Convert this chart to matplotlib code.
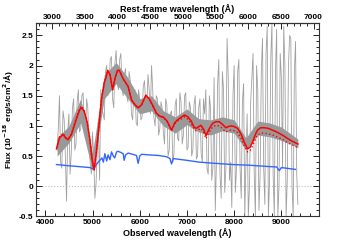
import numpy as np
import matplotlib
matplotlib.use("Agg")
import matplotlib.pyplot as plt
from matplotlib.ticker import MultipleLocator, FormatStrFormatter

plt.rcParams['font.family'] = ['Liberation Sans', 'DejaVu Sans']
plt.rcParams['font.weight'] = 'bold'

z = 0.383

# observed spectrum (gray), 50 A steps from 4250 to 9350
spec_wave = np.arange(4250, 9351, 50)
spec_flux = [0.60, 1.50, 0.30, 1.10, -0.25, 1.20, 0.55, 1.45, 0.70, 1.60,
             0.95, 1.55, 0.80, 1.30, 0.40, 0.90, -0.20, 0.60, 0.10, 1.30,
             1.10, 2.00, 1.60, 2.15, 1.30, 2.25, 1.60, 2.20, 1.50, 1.95,
             1.40, 1.75, 1.10, 1.60, 1.00, 1.45, 1.15, 1.75, 1.30, 1.60,
             2.00, 1.15, 1.50, 0.85, 1.40, 0.90, 1.45, 0.50, 1.20, 0.40,
             1.35, 0.80, 1.55, 0.70, 1.50, 0.60, 1.40, 0.50, 1.35, 0.45,
             1.30, 0.55, 1.45, 1.60, 0.20, 1.30, 0.30, -0.40, 1.70, 0.20,
             1.90, -0.10, 2.45, 0.10, -0.35, 2.00, 0.30, 2.10, -0.20, 1.70,
             0.40, -0.50, 1.40, 2.20, -0.50, 1.60, 0.20, 2.45, -0.30, 2.65,
             0.10, 2.70, -0.50, 2.60, 0.00, 1.80, 2.65, -0.50, 2.00, 2.45,
             -0.50, 2.40, -0.30]
# in-between pixels, 4275 to 9325
spec_wave2 = np.arange(4275, 9326, 50)
spec_flux2 = [0.95, 0.40, 1.25, 0.50, 0.90, 0.20, 1.30, 0.60, 1.40, 0.90,
              1.50, 1.00, 1.45, 0.70, 0.20, 0.50, 0.05, 0.90, 1.60, 1.20,
              1.90, 1.50, 2.10, 1.45, 2.05, 1.70, 2.10, 1.60, 1.85, 1.50,
              1.90, 1.20, 1.55, 1.05, 1.60, 1.10, 1.65, 1.40, 1.85, 1.20,
              1.60, 1.00, 1.45, 0.95, 1.30, 0.70, 1.35, 0.60, 1.25, 0.55,
              1.45, 0.75, 1.40, 0.85, 1.55, 0.65, 1.30, 0.60, 1.50, 0.50,
              1.45, 0.40, 1.20, 0.30, 1.50, 0.10, 1.80, 0.40, 2.10, -0.20,
              1.60, 0.30, 1.80, 0.40, 1.50, -0.10, 1.90, 0.30, 1.40, -0.50,
              1.20, 0.00, 1.80, 0.20, 2.00, -0.40, 1.90, 0.30, 2.20, -0.50,
              2.10, 0.20, 1.90, -0.50, 2.20, 0.30, 2.00, 0.10, 2.50, 0.00,
              1.90, 0.20]

band_wave = [4250, 4500, 4750, 5000, 5250, 5500, 5750, 6000, 6250, 6500, 6750,
             7000, 7250, 7500, 7750, 8000, 8250, 8500, 8750, 9000, 9250, 9350]
band_lo = [0.50, 0.72, 1.05, 0.25, 1.45, 1.70, 1.45, 1.20, 1.25, 1.00, 0.88,
           1.02, 0.90, 0.85, 0.92, 0.88, 0.60, 0.85, 0.82, 0.76, 0.68, 0.64]
band_hi = [0.80, 1.00, 1.45, 0.55, 1.85, 2.05, 1.80, 1.45, 1.50, 1.25, 1.15,
           1.28, 1.12, 1.10, 1.15, 1.10, 0.80, 1.08, 1.05, 0.98, 0.84, 0.78]

# total model (red)
model_wave = [4237, 4300, 4377, 4430, 4480, 4555, 4660, 4730, 4767, 4820,
              4880, 4940, 4990, 5034, 5080, 5130, 5191, 5250, 5286, 5322,
              5370, 5426, 5480, 5530, 5566, 5650, 5756, 5826, 5900, 5966,
              6040, 6129, 6200, 6249, 6355, 6430, 6496, 6580, 6673, 6740,
              6800, 6870, 6949, 7020, 7091, 7150, 7197, 7296, 7350, 7402,
              7470, 7542, 7610, 7684, 7760, 7825, 7880, 7931, 8000, 8072,
              8150, 8220, 8284, 8340, 8390, 8450, 8496, 8560, 8638, 8720,
              8814, 8900, 8993, 9060, 9134, 9220, 9297, 9350]
model_flux = [0.62, 0.80, 0.86, 0.80, 0.77, 0.86, 1.12, 1.27, 1.30, 1.25,
              1.08, 0.80, 0.45, 0.27, 0.55, 0.95, 1.45, 1.72, 1.80, 1.92,
              1.85, 1.60, 1.80, 1.92, 1.92, 1.78, 1.65, 1.43, 1.35, 1.30,
              1.35, 1.51, 1.45, 1.38, 1.21, 1.16, 1.15, 1.08, 0.93, 1.05,
              1.10, 1.14, 1.18, 1.15, 1.08, 0.98, 0.96, 1.01, 0.95, 0.84,
              0.95, 1.04, 1.07, 1.07, 1.02, 0.97, 0.99, 1.00, 0.99, 0.96,
              0.86, 0.72, 0.62, 0.65, 0.73, 0.86, 0.93, 0.97, 0.97, 0.96,
              0.93, 0.90, 0.86, 0.83, 0.79, 0.75, 0.72, 0.70]
model2_flux = [0.63, 0.82, 0.88, 0.81, 0.78, 0.87, 1.14, 1.29, 1.33, 1.27,
               1.09, 0.80, 0.45, 0.27, 0.55, 0.95, 1.45, 1.72, 1.81, 1.92,
               1.85, 1.60, 1.80, 1.92, 1.92, 1.78, 1.65, 1.43, 1.35, 1.30,
               1.35, 1.50, 1.44, 1.37, 1.20, 1.15, 1.14, 1.07, 0.92, 1.03,
               1.08, 1.11, 1.15, 1.11, 1.04, 0.94, 0.92, 0.96, 0.90, 0.79,
               0.90, 0.98, 1.01, 1.00, 0.95, 0.90, 0.92, 0.93, 0.92, 0.89,
               0.79, 0.66, 0.57, 0.59, 0.67, 0.78, 0.85, 0.88, 0.88, 0.87,
               0.85, 0.82, 0.79, 0.76, 0.72, 0.69, 0.66, 0.64]

# host component (blue)
host_wave = [4237, 4500, 4800, 4950, 5000, 5050, 5100, 5155, 5200, 5230,
             5261, 5300, 5330, 5370, 5403, 5440, 5470, 5510, 5544, 5600,
             5650, 5670, 5700, 5756, 5850, 5932, 5966, 6000, 6038, 6200,
             6400, 6567, 6640, 6673, 6710, 6800, 7000, 7261, 7600, 7967,
             8300, 8673, 8900, 8955, 9000, 9297]
host_flux = [0.36, 0.34, 0.32, 0.31, 0.29, 0.32, 0.38, 0.43, 0.47, 0.40,
             0.54, 0.42, 0.52, 0.44, 0.57, 0.50, 0.47, 0.57, 0.58, 0.56,
             0.54, 0.43, 0.52, 0.55, 0.53, 0.51, 0.38, 0.50, 0.53, 0.52,
             0.51, 0.49, 0.46, 0.37, 0.46, 0.45, 0.43, 0.40, 0.38, 0.36,
             0.35, 0.33, 0.32, 0.26, 0.31, 0.28]

# merge the two spectrum samplings into one line
all_wave = np.concatenate([spec_wave, spec_wave2])
all_flux = np.concatenate([spec_flux, spec_flux2])
order = np.argsort(all_wave)

fig = plt.figure(figsize=(3.55, 2.4), dpi=100)
ax = fig.add_axes([0.101, 0.098, 0.798, 0.805])

ax.axhline(0, color='#c0c0c0', ls=':', lw=0.8, zorder=1)
ax.plot(all_wave[order], all_flux[order], color='#a0a0a0', lw=0.6, zorder=2)
ax.fill_between(band_wave, band_lo, band_hi, color='#999999', lw=0, zorder=2)
ax.plot(host_wave, host_flux, color='#3366ff', lw=1.0, zorder=3)
ax.plot(model_wave, model2_flux, color='#ff0000', lw=1.0, ls=':', zorder=4)
ax.plot(model_wave, model_flux, color='#ff0000', lw=1.1, zorder=5)

ax.set_xlim(3800, 9800)
ax.set_ylim(-0.5, 2.7)
ax.xaxis.set_major_locator(MultipleLocator(1000))
ax.xaxis.set_minor_locator(MultipleLocator(200))
ax.yaxis.set_major_locator(MultipleLocator(0.5))
ax.yaxis.set_minor_locator(MultipleLocator(0.1))
ax.yaxis.set_major_formatter(FormatStrFormatter('%g'))
ax.tick_params(which='both', direction='in', top=False, right=True,
               labelsize=6, width=0.6, colors='black', pad=2)
ax.tick_params(which='major', length=4)
ax.tick_params(which='minor', length=2)
for s in ax.spines.values():
    s.set_linewidth(0.8)
    s.set_color('#333333')

ax.set_xlabel('Observed wavelength (Å)', fontsize=6.5, fontweight='bold', labelpad=1)
ax.set_ylabel('Flux (10$^{-18}$ erg/s/cm$^2$/Å)', fontsize=6, fontweight='bold', labelpad=2)

sec = ax.secondary_xaxis('top', functions=(lambda x: x / (1 + z), lambda x: x * (1 + z)))
sec.xaxis.set_major_locator(MultipleLocator(500))
sec.xaxis.set_minor_locator(MultipleLocator(100))
sec.tick_params(which='both', direction='in', labelsize=6, width=0.6, pad=2)
sec.tick_params(which='major', length=4)
sec.tick_params(which='minor', length=2)
sec.set_xlabel('Rest-frame wavelength (Å)', fontsize=6.5, fontweight='bold', labelpad=1)

fig.savefig('out.png', dpi=100)
